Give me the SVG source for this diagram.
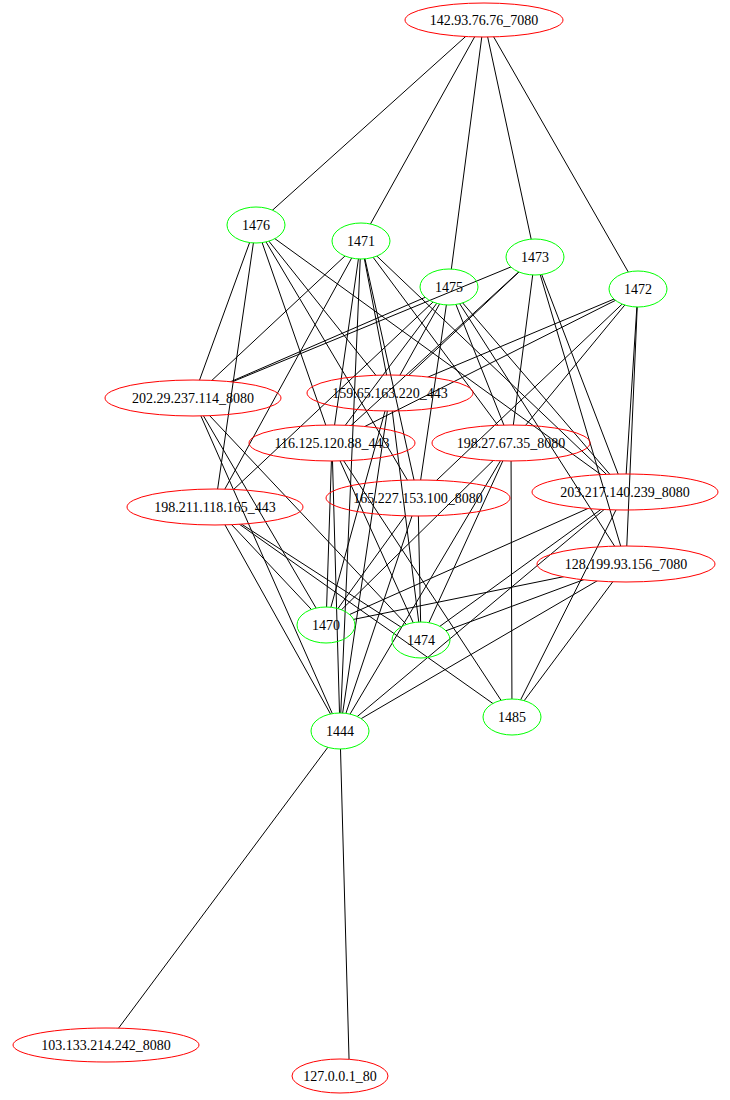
<svg xmlns="http://www.w3.org/2000/svg" width="730" height="1100" viewBox="0 0 730 1100">
<style>
.g{fill:none;stroke:#00ff00;stroke-width:1}
.r{fill:none;stroke:#ff0000;stroke-width:1}
text{font-family:"Liberation Serif","Times New Roman",serif;font-size:14px;text-anchor:middle;fill:#000}
.e line{stroke:#000;stroke-width:1}
</style>
<defs>
<mask id="m142" maskUnits="userSpaceOnUse" x="0" y="0" width="730" height="1100"><rect width="730" height="1100" fill="#fff"/><ellipse cx="484" cy="20" rx="79" ry="17"/></mask>
<mask id="m1476" maskUnits="userSpaceOnUse" x="0" y="0" width="730" height="1100"><rect width="730" height="1100" fill="#fff"/><ellipse cx="256" cy="225" rx="29" ry="18"/></mask>
<mask id="m1471" maskUnits="userSpaceOnUse" x="0" y="0" width="730" height="1100"><rect width="730" height="1100" fill="#fff"/><ellipse cx="361" cy="241" rx="29" ry="18"/></mask>
<mask id="m1475" maskUnits="userSpaceOnUse" x="0" y="0" width="730" height="1100"><rect width="730" height="1100" fill="#fff"/><ellipse cx="449" cy="287" rx="29" ry="18"/></mask>
<mask id="m1473" maskUnits="userSpaceOnUse" x="0" y="0" width="730" height="1100"><rect width="730" height="1100" fill="#fff"/><ellipse cx="535" cy="257" rx="29" ry="18"/></mask>
<mask id="m1472" maskUnits="userSpaceOnUse" x="0" y="0" width="730" height="1100"><rect width="730" height="1100" fill="#fff"/><ellipse cx="638" cy="289" rx="29" ry="18"/></mask>
<mask id="m1470" maskUnits="userSpaceOnUse" x="0" y="0" width="730" height="1100"><rect width="730" height="1100" fill="#fff"/><ellipse cx="326" cy="625" rx="29" ry="18"/></mask>
<mask id="m1474" maskUnits="userSpaceOnUse" x="0" y="0" width="730" height="1100"><rect width="730" height="1100" fill="#fff"/><ellipse cx="421" cy="640" rx="29" ry="18"/></mask>
<mask id="m1444" maskUnits="userSpaceOnUse" x="0" y="0" width="730" height="1100"><rect width="730" height="1100" fill="#fff"/><ellipse cx="340" cy="731" rx="29" ry="18"/></mask>
<mask id="m1485" maskUnits="userSpaceOnUse" x="0" y="0" width="730" height="1100"><rect width="730" height="1100" fill="#fff"/><ellipse cx="512" cy="717" rx="29" ry="18"/></mask>
<mask id="mA" maskUnits="userSpaceOnUse" x="0" y="0" width="730" height="1100"><rect width="730" height="1100" fill="#fff"/><ellipse cx="193" cy="398" rx="88" ry="18"/></mask>
<mask id="mB" maskUnits="userSpaceOnUse" x="0" y="0" width="730" height="1100"><rect width="730" height="1100" fill="#fff"/><ellipse cx="390" cy="393" rx="83" ry="18"/></mask>
<mask id="mC" maskUnits="userSpaceOnUse" x="0" y="0" width="730" height="1100"><rect width="730" height="1100" fill="#fff"/><ellipse cx="332" cy="443" rx="83" ry="18"/></mask>
<mask id="mD" maskUnits="userSpaceOnUse" x="0" y="0" width="730" height="1100"><rect width="730" height="1100" fill="#fff"/><ellipse cx="511" cy="443" rx="79" ry="18"/></mask>
<mask id="mE" maskUnits="userSpaceOnUse" x="0" y="0" width="730" height="1100"><rect width="730" height="1100" fill="#fff"/><ellipse cx="418" cy="498" rx="92" ry="18"/></mask>
<mask id="mF" maskUnits="userSpaceOnUse" x="0" y="0" width="730" height="1100"><rect width="730" height="1100" fill="#fff"/><ellipse cx="625" cy="492" rx="93" ry="18"/></mask>
<mask id="mG" maskUnits="userSpaceOnUse" x="0" y="0" width="730" height="1100"><rect width="730" height="1100" fill="#fff"/><ellipse cx="215" cy="507" rx="88" ry="18"/></mask>
<mask id="mH" maskUnits="userSpaceOnUse" x="0" y="0" width="730" height="1100"><rect width="730" height="1100" fill="#fff"/><ellipse cx="626" cy="564" rx="89" ry="18"/></mask>
<mask id="mI" maskUnits="userSpaceOnUse" x="0" y="0" width="730" height="1100"><rect width="730" height="1100" fill="#fff"/><ellipse cx="106" cy="1045" rx="93" ry="17"/></mask>
<mask id="mJ" maskUnits="userSpaceOnUse" x="0" y="0" width="730" height="1100"><rect width="730" height="1100" fill="#fff"/><ellipse cx="340" cy="1076" rx="48" ry="17"/></mask>
</defs>
<rect width="730" height="1100" fill="#fff"/>
<g id="connectors" class="e">
 <g mask="url(#m142)">
  <line x1="484" y1="20" x2="256" y2="225" mask="url(#m1476)"/>
  <line x1="484" y1="20" x2="361" y2="241" mask="url(#m1471)"/>
  <line x1="484" y1="20" x2="449" y2="287" mask="url(#m1475)"/>
  <line x1="484" y1="20" x2="535" y2="257" mask="url(#m1473)"/>
  <line x1="484" y1="20" x2="638" y2="289" mask="url(#m1472)"/>
 </g>
 <g mask="url(#m1476)">
  <line x1="256" y1="225" x2="193" y2="398" mask="url(#mA)"/>
  <line x1="256" y1="225" x2="215" y2="507" mask="url(#mG)"/>
  <line x1="256" y1="225" x2="332" y2="443" mask="url(#mC)"/>
  <line x1="256" y1="225" x2="418" y2="498" mask="url(#mE)"/>
  <line x1="256" y1="225" x2="390" y2="393" mask="url(#mB)"/>
  <line x1="256" y1="225" x2="625" y2="492" mask="url(#mF)"/>
 </g>
 <g mask="url(#m1471)">
  <line x1="361" y1="241" x2="193" y2="398" mask="url(#mA)"/>
  <line x1="361" y1="241" x2="215" y2="507" mask="url(#mG)"/>
  <line x1="361" y1="241" x2="332" y2="443" mask="url(#mC)"/>
  <line x1="361" y1="241" x2="390" y2="393" mask="url(#mB)"/>
  <line x1="361" y1="241" x2="418" y2="498" mask="url(#mE)"/>
  <line x1="361" y1="241" x2="511" y2="443" mask="url(#mD)"/>
  <line x1="361" y1="241" x2="625" y2="492" mask="url(#mF)"/>
  <line x1="361" y1="241" x2="340" y2="731" mask="url(#m1444)"/>
 </g>
 <g mask="url(#m1475)">
  <line x1="449" y1="287" x2="193" y2="398" mask="url(#mA)"/>
  <line x1="449" y1="287" x2="215" y2="507" mask="url(#mG)"/>
  <line x1="449" y1="287" x2="390" y2="393" mask="url(#mB)"/>
  <line x1="449" y1="287" x2="332" y2="443" mask="url(#mC)"/>
  <line x1="449" y1="287" x2="418" y2="498" mask="url(#mE)"/>
  <line x1="449" y1="287" x2="511" y2="443" mask="url(#mD)"/>
  <line x1="449" y1="287" x2="625" y2="492" mask="url(#mF)"/>
  <line x1="449" y1="287" x2="626" y2="564" mask="url(#mH)"/>
 </g>
 <g mask="url(#m1473)">
  <line x1="535" y1="257" x2="193" y2="398" mask="url(#mA)"/>
  <line x1="535" y1="257" x2="390" y2="393" mask="url(#mB)"/>
  <line x1="535" y1="257" x2="332" y2="443" mask="url(#mC)"/>
  <line x1="535" y1="257" x2="511" y2="443" mask="url(#mD)"/>
  <line x1="535" y1="257" x2="625" y2="492" mask="url(#mF)"/>
  <line x1="535" y1="257" x2="626" y2="564" mask="url(#mH)"/>
 </g>
 <g mask="url(#m1472)">
  <line x1="638" y1="289" x2="390" y2="393" mask="url(#mB)"/>
  <line x1="638" y1="289" x2="332" y2="443" mask="url(#mC)"/>
  <line x1="638" y1="289" x2="418" y2="498" mask="url(#mE)"/>
  <line x1="638" y1="289" x2="511" y2="443" mask="url(#mD)"/>
  <line x1="638" y1="289" x2="625" y2="492" mask="url(#mF)"/>
  <line x1="638" y1="289" x2="626" y2="564" mask="url(#mH)"/>
 </g>
 <g mask="url(#m1470)">
  <line x1="326" y1="625" x2="193" y2="398" mask="url(#mA)"/>
  <line x1="326" y1="625" x2="215" y2="507" mask="url(#mG)"/>
  <line x1="326" y1="625" x2="332" y2="443" mask="url(#mC)"/>
  <line x1="326" y1="625" x2="390" y2="393" mask="url(#mB)"/>
  <line x1="326" y1="625" x2="418" y2="498" mask="url(#mE)"/>
  <line x1="326" y1="625" x2="511" y2="443" mask="url(#mD)"/>
  <line x1="326" y1="625" x2="625" y2="492" mask="url(#mF)"/>
  <line x1="326" y1="625" x2="626" y2="564" mask="url(#mH)"/>
 </g>
 <g mask="url(#m1474)">
  <line x1="421" y1="640" x2="193" y2="398" mask="url(#mA)"/>
  <line x1="421" y1="640" x2="215" y2="507" mask="url(#mG)"/>
  <line x1="421" y1="640" x2="332" y2="443" mask="url(#mC)"/>
  <line x1="421" y1="640" x2="390" y2="393" mask="url(#mB)"/>
  <line x1="421" y1="640" x2="418" y2="498" mask="url(#mE)"/>
  <line x1="421" y1="640" x2="511" y2="443" mask="url(#mD)"/>
  <line x1="421" y1="640" x2="625" y2="492" mask="url(#mF)"/>
  <line x1="421" y1="640" x2="626" y2="564" mask="url(#mH)"/>
 </g>
 <g mask="url(#m1444)">
  <line x1="340" y1="731" x2="193" y2="398" mask="url(#mA)"/>
  <line x1="340" y1="731" x2="215" y2="507" mask="url(#mG)"/>
  <line x1="340" y1="731" x2="332" y2="443" mask="url(#mC)"/>
  <line x1="340" y1="731" x2="390" y2="393" mask="url(#mB)"/>
  <line x1="340" y1="731" x2="418" y2="498" mask="url(#mE)"/>
  <line x1="340" y1="731" x2="511" y2="443" mask="url(#mD)"/>
  <line x1="340" y1="731" x2="625" y2="492" mask="url(#mF)"/>
  <line x1="340" y1="731" x2="626" y2="564" mask="url(#mH)"/>
  <line x1="340" y1="731" x2="106" y2="1045" mask="url(#mI)"/>
  <line x1="340" y1="731" x2="349.5" y2="1076" mask="url(#mJ)"/>
 </g>
 <g mask="url(#m1485)">
  <line x1="512" y1="717" x2="215" y2="507" mask="url(#mG)"/>
  <line x1="512" y1="717" x2="332" y2="443" mask="url(#mC)"/>
  <line x1="512" y1="717" x2="511" y2="443" mask="url(#mD)"/>
  <line x1="512" y1="717" x2="625" y2="492" mask="url(#mF)"/>
  <line x1="512" y1="717" x2="626" y2="564" mask="url(#mH)"/>
 </g>
</g>
<g id="n142"><ellipse class="r" cx="484" cy="20" rx="79" ry="17"/><text x="484" y="25">142.93.76.76_7080</text></g>
<g id="n1476"><ellipse class="g" cx="256" cy="225" rx="29" ry="18"/><text x="256" y="230">1476</text></g>
<g id="n1471"><ellipse class="g" cx="361" cy="241" rx="29" ry="18"/><text x="361" y="246">1471</text></g>
<g id="n1475"><ellipse class="g" cx="449" cy="287" rx="29" ry="18"/><text x="449" y="292">1475</text></g>
<g id="n1473"><ellipse class="g" cx="535" cy="257" rx="29" ry="18"/><text x="535" y="262">1473</text></g>
<g id="n1472"><ellipse class="g" cx="638" cy="289" rx="29" ry="18"/><text x="638" y="294">1472</text></g>
<g id="n202"><ellipse class="r" cx="193" cy="398" rx="88" ry="18"/><text x="193" y="403">202.29.237.114_8080</text></g>
<g id="n159"><ellipse class="r" cx="390" cy="393" rx="83" ry="18"/><text x="390" y="398">159.65.163.220_443</text></g>
<g id="n116"><ellipse class="r" cx="332" cy="443" rx="83" ry="18"/><text x="332" y="448">116.125.120.88_443</text></g>
<g id="n198_27"><ellipse class="r" cx="511" cy="443" rx="79" ry="18"/><text x="511" y="448">198.27.67.35_8080</text></g>
<g id="n165"><ellipse class="r" cx="418" cy="498" rx="92" ry="18"/><text x="418" y="503">165.227.153.100_8080</text></g>
<g id="n203"><ellipse class="r" cx="625" cy="492" rx="93" ry="18"/><text x="625" y="497">203.217.140.239_8080</text></g>
<g id="n198_211"><ellipse class="r" cx="215" cy="507" rx="88" ry="18"/><text x="215" y="512">198.211.118.165_443</text></g>
<g id="n128"><ellipse class="r" cx="626" cy="564" rx="89" ry="18"/><text x="626" y="569">128.199.93.156_7080</text></g>
<g id="n1470"><ellipse class="g" cx="326" cy="625" rx="29" ry="18"/><text x="326" y="630">1470</text></g>
<g id="n1474"><ellipse class="g" cx="421" cy="640" rx="29" ry="18"/><text x="421" y="645">1474</text></g>
<g id="n1444"><ellipse class="g" cx="340" cy="731" rx="29" ry="18"/><text x="340" y="736">1444</text></g>
<g id="n1485"><ellipse class="g" cx="512" cy="717" rx="29" ry="18"/><text x="512" y="722">1485</text></g>
<g id="n103"><ellipse class="r" cx="106" cy="1045" rx="93" ry="17"/><text x="106" y="1050">103.133.214.242_8080</text></g>
<g id="n127"><ellipse class="r" cx="340" cy="1076" rx="48" ry="17"/><text x="340" y="1081">127.0.0.1_80</text></g>
</svg>
